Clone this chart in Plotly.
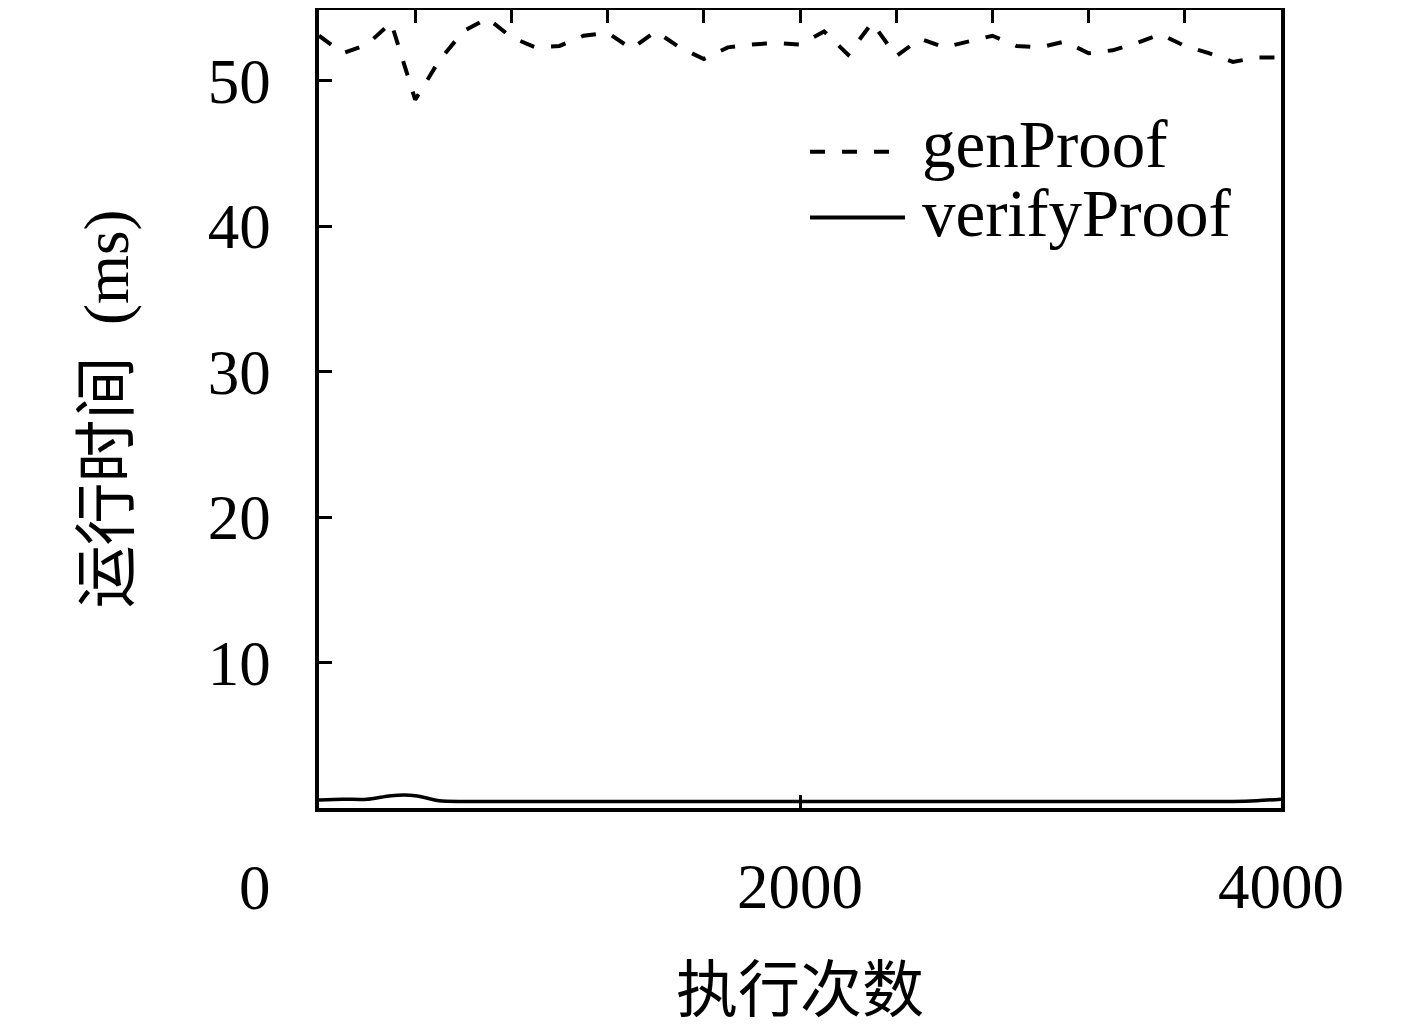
import plotly.graph_objects as go

# ---- data ----
runs = list(range(0, 4001, 100))
gen_proof = [53.1, 51.9, 52.5, 54.0, 48.7, 51.4, 53.4, 54.3, 53.0, 52.3,
             52.4, 53.1, 53.3, 52.2, 53.4, 52.3, 51.5, 52.3, 52.5, 52.6,
             52.5, 53.4, 51.8, 54.0, 51.7, 52.9, 52.3, 52.7, 53.1, 52.4,
             52.3, 52.7, 51.9, 52.1, 52.6, 53.2, 52.4, 51.9, 51.3, 51.6,
             51.6]
verify_proof = [0.55, 0.6, 0.6, 0.85, 0.85, 0.5, 0.45, 0.45, 0.45, 0.45,
                0.45, 0.45, 0.45, 0.45, 0.45, 0.45, 0.45, 0.45, 0.45, 0.45,
                0.45, 0.45, 0.45, 0.45, 0.45, 0.45, 0.45, 0.45, 0.45, 0.45,
                0.45, 0.45, 0.45, 0.45, 0.45, 0.45, 0.45, 0.45, 0.45, 0.5,
                0.6]
series_names = ["genProof", "verifyProof"]
y_ticks = [10, 20, 30, 40, 50]
x_ticks = [0, 2000, 4000]
x_ticktext = ["", "2000", "4000"]
top_ticks = [400, 800, 1200, 1600, 2000, 2400, 2800, 3200, 3600]
x_title = "执行次数"
y_title = "运行时间  (ms)"

SERIF = "Liberation Serif, Noto Sans CJK SC, serif"
fs_tick = 63

fig = go.Figure()
fig.add_trace(go.Scatter(x=runs, y=gen_proof, mode="lines", name=series_names[0],
                         line=dict(color="black", width=4, dash="15px,17px"),
                         showlegend=False))
fig.add_trace(go.Scatter(x=runs, y=verify_proof, mode="lines", name=series_names[1],
                         line=dict(color="black", width=3.5, shape="spline", smoothing=0.8),
                         showlegend=False))
# invisible trace to activate top axis
fig.add_trace(go.Scatter(x=[runs[0]], y=[None], xaxis="x2", yaxis="y",
                         mode="lines", showlegend=False, hoverinfo="skip"))

# the page body has an 8px margin, so the figure is shifted by 8px
fig.update_layout(
    width=1409, height=1022,
    margin=dict(l=311, r=136, t=2, b=222),
    paper_bgcolor="white", plot_bgcolor="white",
    font=dict(family=SERIF, color="black", size=fs_tick),
    showlegend=False,
    xaxis=dict(range=[0, 4000], tickvals=x_ticks, ticktext=x_ticktext,
               ticks="inside", ticklen=13, tickwidth=2.5, tickcolor="black",
               showline=True, linecolor="black", linewidth=3.5, mirror=True,
               showgrid=False, zeroline=False, automargin=False,
               ticklabelstandoff=21,
               tickfont=dict(family=SERIF, size=fs_tick),
               title=dict(text=x_title, standoff=66,
                          font=dict(family="Noto Sans CJK SC", size=62))),
    xaxis2=dict(range=[0, 4000], overlaying="x", side="top",
                tickvals=top_ticks, showticklabels=False,
                ticks="inside", ticklen=13, tickwidth=2.5, tickcolor="black",
                showline=False, showgrid=False, zeroline=False, automargin=False),
    yaxis=dict(range=[0, 54.87], tickvals=y_ticks,
               ticks="inside", ticklen=13, tickwidth=2.5, tickcolor="black",
               showline=True, linecolor="black", linewidth=3.5, mirror=True,
               showgrid=False, zeroline=False, automargin=False,
               ticklabelstandoff=32,
               tickfont=dict(family=SERIF, size=fs_tick),
               title=dict(text=y_title, standoff=60,
                          font=dict(family=SERIF, size=63))),
)

# stray origin label
fig.add_annotation(text="0", xref="paper", yref="paper", x=-0.0665, y=-0.10,
                   xanchor="center", yanchor="middle", showarrow=False,
                   font=dict(family=SERIF, size=fs_tick))

# legend (drawn manually)
leg_lines = [(0.8225, "15px,17px"), (0.74, "solid")]
leg_text_y = [0.8325, 0.745]
for (yy, dash), ty, name in zip(leg_lines, leg_text_y, series_names):
    fig.add_shape(type="line", xref="paper", yref="paper",
                  x0=0.5104, x1=0.6091, y0=yy, y1=yy,
                  line=dict(color="black", width=4, dash=dash))
    fig.add_annotation(text=name, xref="paper", yref="paper", x=0.6247, y=ty,
                       xanchor="left", yanchor="middle", showarrow=False,
                       font=dict(family=SERIF, size=67))

fig.write_html("out.html")
